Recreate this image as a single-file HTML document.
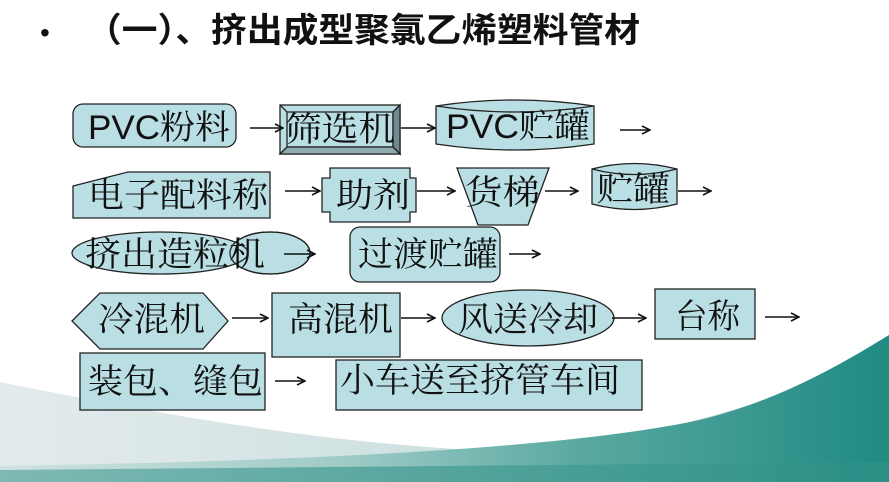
<!DOCTYPE html>
<html><head><meta charset="utf-8"><style>
html,body{margin:0;padding:0;background:#fff;width:889px;height:482px;overflow:hidden}
svg{display:block}
text{font-family:"Liberation Sans","Noto Serif CJK SC",serif;fill:#111}
.b{font-size:34px}
</style></head><body>
<svg width="889" height="482" viewBox="0 0 889 482" xmlns="http://www.w3.org/2000/svg">
<defs>
<linearGradient id="g1" x1="0" y1="0" x2="1" y2="0">
<stop offset="0" stop-color="#e4ebed"/><stop offset="0.5" stop-color="#cde0df"/><stop offset="1" stop-color="#9cc8c3"/></linearGradient>
<linearGradient id="g2" x1="0" y1="0" x2="1" y2="0">
<stop offset="0" stop-color="#cfe2e1"/><stop offset="0.4" stop-color="#9ccac5"/><stop offset="0.65" stop-color="#5aa9a1"/><stop offset="1" stop-color="#1f8b82"/></linearGradient>
<linearGradient id="g3" x1="0" y1="0" x2="1" y2="0">
<stop offset="0" stop-color="#7fbab4"/><stop offset="1" stop-color="#2a8f86"/></linearGradient>
<marker id="a" markerWidth="10" markerHeight="10" refX="9" refY="5" orient="auto" markerUnits="userSpaceOnUse"><path d="M1,1 L9,5 L1,9" fill="none" stroke="#111" stroke-width="1.6"/></marker>
</defs>
<path d="M0,382 C150,412 300,440 470,450 C650,445 800,400 889,340 L889,482 L0,482 Z" fill="url(#g1)"/>
<path d="M0,466 C250,462 550,452 700,420 C780,400 840,365 889,335 L889,482 L0,482 Z" fill="url(#g2)"/>
<path d="M0,470 L889,462 L889,482 L0,482 Z" fill="url(#g3)"/>
<text x="40" y="42" style="font-size:28px;font-family:'Liberation Sans',sans-serif">•</text>
<text x="86" y="42" textLength="554" lengthAdjust="spacingAndGlyphs" style="font-size:34px;font-weight:bold;font-family:'Liberation Sans','Noto Sans CJK SC',sans-serif">（一）、挤出成型聚氯乙烯塑料管材</text>
<g fill="#b9dfe4" stroke="#222" stroke-width="1.3">
<rect x="73" y="104" width="163" height="43" rx="10"/>
<rect x="280" y="105" width="120" height="49"/>
<path d="M280,105 L287,112 L393,112 L400,105 M280,154 L287,147 L393,147 L400,154 M287,112 L287,147 M393,112 L393,147" fill="none"/>
<path d="M393,112 L400,105 L400,154 L393,147 Z" fill="#708a8e"/>
<path d="M287,147 L393,147 L400,154 L280,154 Z" fill="#8eacb0"/>
<path d="M436,106 Q515,94 594,106 L594,144 Q515,156 436,144 Z"/>
<path d="M436,106 Q515,118 594,106" fill="none"/>
<path d="M73,186 L128,172 L270,172 L270,218 L73,218 Z"/>
<path d="M330,168 L410,168 L410,178 L416,178 L416,212 L410,212 L410,222 L330,222 L330,212 L322,212 L322,178 L330,178 Z"/>
<path d="M457,168 L549,168 L528,225 L478,225 Z"/>
<path d="M592,169 Q634,158 677,169 L677,204 Q634,215 592,204 Z"/>
<path d="M592,169 Q634,180 677,169" fill="none"/>
<ellipse cx="270" cy="253" rx="40" ry="21"/>
<ellipse cx="160" cy="253" rx="88" ry="21"/>
<ellipse cx="270" cy="253" rx="40" ry="21" fill="none"/>
<rect x="350" y="227" width="150" height="55" rx="10"/>
<path d="M72,321 L100,293 L203,293 L228,321 L203,349 L100,349 Z"/>
<rect x="272" y="293" width="128" height="64"/>
<ellipse cx="528" cy="318" rx="86" ry="28"/>
<rect x="655" y="289" width="100" height="50"/>
<rect x="80" y="353" width="185" height="57"/>
<rect x="336" y="360" width="306" height="50"/>
</g>
<g stroke="#111" stroke-width="1.6" marker-end="url(#a)">
<line x1="250" y1="128" x2="283" y2="128"/>
<line x1="401" y1="128" x2="435" y2="128"/>
<line x1="620" y1="130" x2="650" y2="130"/>
<line x1="285" y1="191" x2="320" y2="191"/>
<line x1="417" y1="191" x2="455" y2="191"/>
<line x1="545" y1="191" x2="578" y2="191"/>
<line x1="678" y1="191" x2="711" y2="191"/>
<line x1="284" y1="254" x2="315" y2="254"/>
<line x1="509" y1="254" x2="540" y2="254"/>
<line x1="232" y1="318" x2="268" y2="318"/>
<line x1="401" y1="318" x2="435" y2="318"/>
<line x1="612" y1="318" x2="646" y2="318"/>
<line x1="765" y1="317" x2="799" y2="317"/>
<line x1="275" y1="381" x2="305" y2="381"/>
</g>
<g>
<text x="88" y="139" class="b" textLength="142" lengthAdjust="spacingAndGlyphs">PVC粉料</text>
<text x="285" y="141" class="b" textLength="110" lengthAdjust="spacingAndGlyphs">筛选机</text>
<text x="446" y="138" class="b" textLength="144" lengthAdjust="spacingAndGlyphs">PVC贮罐</text>
<text x="88" y="207" class="b" textLength="180" lengthAdjust="spacingAndGlyphs">电子配料称</text>
<text x="336" y="207" class="b" textLength="74" lengthAdjust="spacingAndGlyphs">助剂</text>
<text x="465" y="204" class="b" textLength="75" lengthAdjust="spacingAndGlyphs">货梯</text>
<text x="597" y="201" class="b" textLength="73" lengthAdjust="spacingAndGlyphs">贮罐</text>
<text x="85" y="266" class="b" textLength="180" lengthAdjust="spacingAndGlyphs">挤出造粒机</text>
<text x="358" y="266" class="b" textLength="140" lengthAdjust="spacingAndGlyphs">过渡贮罐</text>
<text x="98" y="331" class="b" textLength="107" lengthAdjust="spacingAndGlyphs">冷混机</text>
<text x="288" y="331" class="b" textLength="105" lengthAdjust="spacingAndGlyphs">高混机</text>
<text x="458" y="331" class="b" textLength="140" lengthAdjust="spacingAndGlyphs">风送冷却</text>
<text x="675" y="328" class="b" textLength="65" lengthAdjust="spacingAndGlyphs">台称</text>
<text x="88" y="393" class="b" textLength="175" lengthAdjust="spacingAndGlyphs">装包、缝包</text>
<text x="340" y="392" class="b" textLength="280" lengthAdjust="spacingAndGlyphs">小车送至挤管车间</text>
</g>
</svg>
</body></html>
